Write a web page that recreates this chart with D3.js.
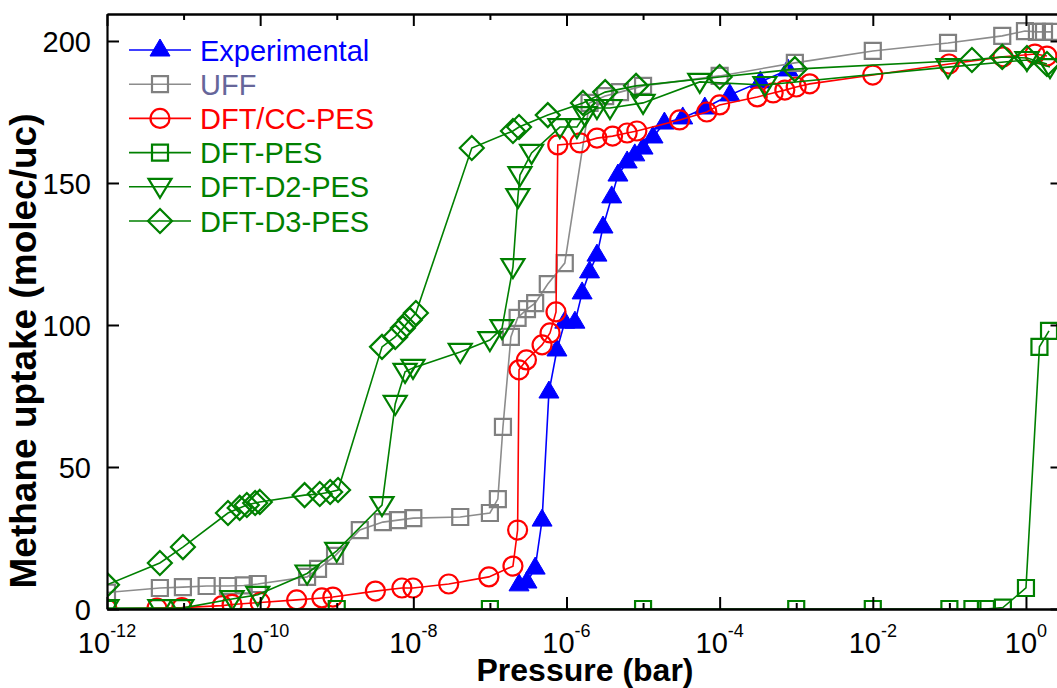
<!DOCTYPE html>
<html>
<head>
<meta charset="utf-8">
<script src="https://cdn.jsdelivr.net/npm/d3@7"></script>
<style>
  body { margin: 0; background: #fff; }
  svg { display: block; font-family: Arial, "Liberation Sans", sans-serif; }
</style>
</head>
<body>
<svg id="chart" width="1057" height="688"></svg>
<script>
// ---- data (pressure in bar, uptake in molec/uc) ----
const expP = [2.4e-7, 3.05e-7, 3.9e-7, 4.8e-7, 5.9e-7, 7.5e-7, 9.5e-7, 1.29e-6, 1.6e-6, 2.0e-6, 2.5e-6, 3.0e-6,
  3.9e-6, 4.7e-6, 6.2e-6, 7.8e-6, 1.0e-5, 1.35e-5, 1.9e-5, 3.3e-5, 6.4e-5, 1.36e-4, 3.4e-4, 7.8e-4];
const expU = [8.5, 9.5, 14.4, 31.3, 76.4, 91.2, 101, 101, 111.3, 118.7, 124.6, 134.5,
  145.1, 152.8, 157.4, 159.9, 162.3, 166.2, 171.1, 172.9, 176.4, 181, 185.6, 189.8];

const uffP = [1e-12, 4.9e-12, 9.8e-12, 2.0e-11, 3.8e-11, 6.1e-11, 9.3e-11, 4.1e-10, 5.7e-10, 9.5e-10, 2.0e-9,
  4.0e-9, 6.3e-9, 1.0e-8, 4.1e-8, 1.0e-7, 1.27e-7, 1.48e-7, 1.88e-7, 2.3e-7, 3.05e-7, 3.9e-7, 5.7e-7, 9.5e-7,
  2.0e-6, 3.2e-6, 5.0e-6, 1.0e-5, 1.0e-4, 9.6e-4, 1.0e-2, 0.096, 0.49, 0.97, 1.39, 1.72, 2.12];
const uffU = [5.8, 7.4, 7.7, 8.1, 8.1, 8.3, 8.8, 11.3, 14.1, 18.7, 27.8,
  30.6, 31.3, 32, 32.4, 33.8, 38.7, 64.1, 95.8, 102.5, 105.6, 107.7, 114.4, 121.8,
  178.2, 180.6, 182, 184.2, 187.7, 192.3, 196.5, 199.3, 201.8, 203.5, 203.2, 203.2, 203.2];

const ccP = [1e-12, 4.5e-12, 9.5e-12, 3.2e-11, 4.3e-11, 1.0e-10, 3.0e-10, 6.4e-10, 8.9e-10, 3.2e-9, 7.1e-9, 9.9e-9,
  2.9e-8, 9.7e-8, 2.0e-7, 2.3e-7, 2.4e-7, 3.0e-7, 4.8e-7, 6.1e-7, 7.3e-7, 7.7e-7, 1.5e-6, 2.5e-6, 4.0e-6,
  6.2e-6, 8.3e-6, 3.0e-5, 6.8e-5, 1.0e-4, 3.1e-4, 5.0e-4, 7.1e-4, 1.0e-3, 1.5e-3, 1.0e-2, 0.099, 0.5, 1.31, 1.88];
const ccU = [0, 0.3, 0.5, 1.2, 1.6, 2.3, 3.2, 3.9, 4.2, 6.3, 7.4, 7.4,
  8.8, 11.3, 15.1, 27.8, 84.2, 87.7, 93, 97.2, 104.6, 163.4, 164.1, 165.8, 166.5,
  167.6, 168.3, 172.2, 175, 177.5, 180.3, 181.7, 182.7, 183.8, 184.9, 188, 191.9, 194.4, 195.4, 194.7];

const pesP = [1e-12, 1e-9, 1e-7, 1e-5, 1e-3, 1e-2, 0.1, 0.2, 0.3, 0.5, 1.0, 1.5, 2.0];
const pesU = [0, 0, 0, 0, 0, 0, 0, 0, 0, 0.5, 7.4, 92.3, 97.9];

const d2P = [1e-12, 4.9e-12, 9.5e-12, 4.3e-11, 9.3e-11, 4.1e-10, 1.0e-9, 3.9e-9, 5.8e-9, 7.8e-9, 9.9e-9,
  4.1e-8, 1.0e-7, 1.44e-7, 2.0e-7, 2.32e-7, 2.47e-7, 3.5e-7, 8.2e-7, 1.37e-6, 1.74e-6, 2.5e-6, 3.7e-6,
  1.0e-5, 5.5e-5, 3.9e-4, 0.096, 1.03, 2.06];
const d2U = [0.3, 0.3, 0.3, 3.5, 5, 12.5, 20.5, 36.6, 72.2, 83.5, 84.9,
  90.5, 94.7, 98.9, 120.4, 145, 152.8, 160.6, 169.7, 169.7, 173.9, 176.4, 176.4,
  178.2, 185.6, 184.5, 190.8, 193.3, 190.8];

const d3P = [1e-12, 4.9e-12, 9.8e-12, 3.8e-11, 5.4e-11, 6.7e-11, 8.6e-11, 9.9e-11, 3.8e-10, 6.0e-10, 8.2e-10,
  1.04e-9, 3.9e-9, 5.8e-9, 7.3e-9, 9.0e-9, 1.08e-8, 5.8e-8, 2.0e-7, 2.4e-7, 5.7e-7, 1.64e-6, 3.2e-6,
  8.1e-6, 1.0e-4, 9.6e-4, 0.197, 0.49, 1.03, 1.88];
const d3U = [8.5, 16.2, 21.8, 33.8, 35.6, 36.6, 37.3, 37.7, 40.1, 40.5, 41.2,
  41.9, 92.3, 95.8, 98.9, 101.8, 104.2, 162.3, 168.3, 169.7, 173.9, 178.2, 182,
  184.2, 187.3, 190.1, 193.3, 194.4, 194, 191.9];

const seriesNames = ['Experimental', 'UFF', 'DFT/CC-PES', 'DFT-PES', 'DFT-D2-PES', 'DFT-D3-PES'];
const xTickExps = [-12, -10, -8, -6, -4, -2, 0];
const xMinorExps = [-11, -9, -7, -5, -3, -1];
const yTicks = [0, 50, 100, 150, 200];

// ---- layout ----
const PLOT = { left: 107, right: 1062.5, top: 14, bottom: 609 };
const svg = d3.select('#chart');

const x = d3.scaleLog().domain([1e-12, 3]).range([PLOT.left, PLOT.right]);
const y = d3.scaleLinear().domain([0, 209.5]).range([PLOT.bottom, PLOT.top]);

const series = [
  { p: expP, u: expU, line: '#0000ff', mark: '#0000ff', text: '#0000ff', shape: 'triUp' },
  { p: uffP, u: uffU, line: '#8c8c8c', mark: '#808080', text: '#66669a', shape: 'square' },
  { p: ccP,  u: ccU,  line: '#ff0000', mark: '#ff0000', text: '#ff0000', shape: 'circle' },
  { p: pesP, u: pesU, line: '#008000', mark: '#008000', text: '#008000', shape: 'square' },
  { p: d2P,  u: d2U,  line: '#008000', mark: '#008000', text: '#008000', shape: 'triDown' },
  { p: d3P,  u: d3U,  line: '#008000', mark: '#008000', text: '#008000', shape: 'diamond' }
];
series.forEach((s, i) => { s.name = seriesNames[i]; });

// marker paths centred on (0,0)
function markerPath(shape) {
  switch (shape) {
    case 'triUp':   return 'M0,-11 L10,6 L-10,6 Z';
    case 'triDown': return 'M0,11 L11.5,-8 L-11.5,-8 Z';
    case 'square':  return 'M-8,-8 H8 V8 H-8 Z';
    case 'diamond': return 'M0,-12 L12,0 L0,12 L-12,0 Z';
    case 'circle':  return d3.arc()({ innerRadius: 0, outerRadius: 9.5, startAngle: 0, endAngle: 2 * Math.PI });
  }
}

function drawMarker(g, s) {
  g.append('path')
    .attr('d', markerPath(s.shape))
    .attr('fill', s.shape === 'triUp' ? s.mark : 'none')
    .attr('stroke', s.mark)
    .attr('stroke-width', s.shape === 'triUp' ? 1 : 2.2);
}

svg.append('defs').append('clipPath').attr('id', 'plot-clip')
  .append('rect')
  .attr('x', PLOT.left).attr('y', PLOT.top)
  .attr('width', PLOT.right - PLOT.left).attr('height', PLOT.bottom - PLOT.top);

const plot = svg.append('g').attr('clip-path', 'url(#plot-clip)');

const line = d3.line().x(d => x(d[0])).y(d => y(d[1]));

series.forEach(s => {
  const pts = s.p.map((p, i) => [p, s.u[i]]);
  const g = plot.append('g');
  g.append('path')
    .attr('d', line(pts))
    .attr('fill', 'none')
    .attr('stroke', s.line)
    .attr('stroke-width', 1.6);
  pts.forEach(d => {
    drawMarker(g.append('g').attr('transform', `translate(${x(d[0])},${y(d[1])})`), s);
  });
});

// ---- axes ----
const majorTicks = xTickExps.map(e => Math.pow(10, e));
const minorTicks = xMinorExps.map(e => Math.pow(10, e));

function styleAxis(g) {
  g.selectAll('path.domain').attr('stroke', '#000').attr('stroke-width', 2.2);
  g.selectAll('.tick line').attr('stroke', '#000').attr('stroke-width', 2);
}

svg.append('g').attr('transform', `translate(0,${PLOT.bottom})`)
  .call(d3.axisBottom(x).tickValues(majorTicks).tickSize(-12).tickSizeOuter(0).tickFormat(''))
  .call(styleAxis);
svg.append('g').attr('transform', `translate(0,${PLOT.bottom})`)
  .call(d3.axisBottom(x).tickValues(minorTicks).tickSize(-6).tickSizeOuter(0).tickFormat(''))
  .call(styleAxis);
svg.append('g').attr('transform', `translate(0,${PLOT.top})`)
  .call(d3.axisTop(x).tickValues(majorTicks).tickSize(-12).tickSizeOuter(0).tickFormat(''))
  .call(styleAxis);
svg.append('g').attr('transform', `translate(0,${PLOT.top})`)
  .call(d3.axisTop(x).tickValues(minorTicks).tickSize(-6).tickSizeOuter(0).tickFormat(''))
  .call(styleAxis);

const yAxis = svg.append('g').attr('transform', `translate(${PLOT.left},0)`)
  .call(d3.axisLeft(y).tickValues(yTicks).tickSize(-12).tickSizeOuter(0).tickPadding(16))
  .call(styleAxis);
yAxis.selectAll('text')
  .attr('font-size', 29).attr('font-family', 'Arial, "Liberation Sans", sans-serif')
  .attr('fill', '#000').attr('dy', '0.36em');

svg.append('g').attr('transform', `translate(${PLOT.right},0)`)
  .call(d3.axisRight(y).tickValues(yTicks).tickSize(-12).tickSizeOuter(0).tickFormat(''))
  .call(styleAxis);

// x tick labels as 10^n with superscript
const xLabels = svg.append('g').attr('font-size', 29).attr('fill', '#000');
xTickExps.forEach(e => {
  const t = xLabels.append('text')
    .attr('x', x(Math.pow(10, e)))
    .attr('y', 653)
    .attr('text-anchor', 'middle');
  t.append('tspan').text('10');
  t.append('tspan').attr('font-size', 18).attr('dy', -16).text(e);
});

// axis titles
svg.append('text')
  .attr('x', 585).attr('y', 681)
  .attr('text-anchor', 'middle')
  .attr('font-size', 32).attr('font-weight', 'bold')
  .text('Pressure (bar)');

svg.append('text')
  .attr('transform', 'translate(36,351) rotate(-90)')
  .attr('text-anchor', 'middle')
  .attr('font-size', 37).attr('font-weight', 'bold')
  .text('Methane uptake (molec/uc)');

// ---- legend ----
const legend = svg.append('g');
series.forEach((s, i) => {
  const ly = 50 + i * 34.2;
  const g = legend.append('g');
  g.append('line')
    .attr('x1', 129).attr('x2', 191).attr('y1', ly).attr('y2', ly)
    .attr('stroke', s.line).attr('stroke-width', 1.6);
  drawMarker(g.append('g').attr('transform', `translate(160,${ly})`), s);
  g.append('text')
    .attr('x', 200).attr('y', ly + 10.5)
    .attr('font-size', 29)
    .attr('fill', s.text)
    .text(s.name);
});
</script>
</body>
</html>
